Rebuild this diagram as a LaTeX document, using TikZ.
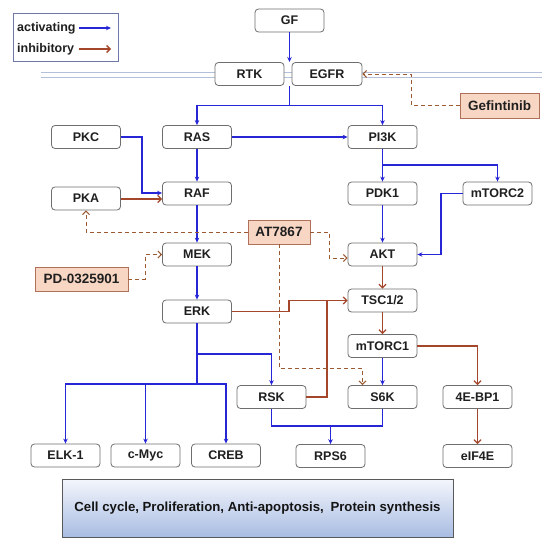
\documentclass[tikz,border=0pt]{standalone}
\usepackage{fontspec}
\setmainfont{Liberation Sans}
\usetikzlibrary{arrows.meta,calc}
\definecolor{actblue}{HTML}{2626D6}
\definecolor{inhbrown}{HTML}{A4462A}
\definecolor{dashbrown}{HTML}{9C5A32}
\definecolor{drugfill}{HTML}{F8D6C4}
\definecolor{drugdraw}{HTML}{B0705A}
\definecolor{boxdraw}{HTML}{6E6E6E}
\definecolor{membr}{HTML}{B4C0DA}
\definecolor{legdraw}{HTML}{6E78A8}
\definecolor{gradtop}{HTML}{F4F6FC}
\definecolor{gradbot}{HTML}{A8BCE2}
\begin{document}
\begin{tikzpicture}[x=1pt,y=-1pt,
  pbox/.style={draw=boxdraw, line width=0.8pt, rounded corners=3.5pt, fill=white,
    minimum width=69pt, minimum height=23pt, inner sep=0pt, text=black!88,
    font=\bfseries\fontsize{12.5}{12.5}\selectfont},
  drug/.style={draw=drugdraw, line width=0.9pt, fill=drugfill, minimum height=24pt,
    inner sep=0pt, text=black!88, font=\bfseries\fontsize{13.5}{13.5}\selectfont},
  act/.style={draw=actblue, line width=1.3pt, -{Stealth[length=5pt,width=4.5pt]}},
  actline/.style={draw=actblue, line width=1.3pt},
  inh/.style={draw=inhbrown, line width=1.3pt, -{Straight Barb[length=3.5pt,width=7pt]}},
  inhline/.style={draw=inhbrown, line width=1.3pt},
  drugarrow/.style={draw=dashbrown, line width=1pt, dash pattern=on 4pt off 3pt,
    -{Straight Barb[length=3.5pt,width=7pt]}},
  membrane/.style={draw=membr, line width=0.9pt}
]
\useasboundingbox (0,0) rectangle (550,546);
% membrane
\draw[membrane] (41,72) -- (542,72);
\draw[membrane] (41,77) -- (542,77);

% legend
\node[draw=legdraw, line width=0.9pt, fill=white, minimum width=105pt, minimum height=48pt, inner sep=0pt] (legend) at (65.5,37) {};
\node[anchor=west, inner sep=0pt, font=\bfseries\fontsize{12.5}{12.5}\selectfont, text=black!88] (lact) at (17,28) {activating};
\node[anchor=west, inner sep=0pt, font=\bfseries\fontsize{12.5}{12.5}\selectfont, text=black!88] (linh) at (17,49) {inhibitory};
\coordinate (la1) at (79,28); \coordinate (la2) at (111,28);
\coordinate (li1) at (79,49); \coordinate (li2) at (111,49);
\draw[act] (la1) -- (la2);
\draw[inh] (li1) -- (li2);

% nodes
\node[pbox] (GF) at (289.5,20.5) {GF};
\node[pbox] (RTK) at (249.5,74) {RTK};
\node[pbox, minimum width=70pt] (EGFR) at (327,74) {EGFR};
\node[pbox] (RAS) at (197,137) {RAS};
\node[pbox] (PI3K) at (382.5,137) {PI3K};
\node[pbox] (PKC) at (86,137) {PKC};
\node[pbox] (RAF) at (197,193.5) {RAF};
\node[pbox] (PKA) at (86,198.5) {PKA};
\node[pbox] (PDK1) at (382.5,193.5) {PDK1};
\node[pbox] (mTORC2) at (497.5,193.5) {mTORC2};
\node[pbox] (AKT) at (382.5,254.5) {AKT};
\node[pbox] (MEK) at (197,254.5) {MEK};
\node[pbox] (ERK) at (197,311.5) {ERK};
\node[pbox] (TSC) at (382.5,300.5) {TSC1/2};
\node[pbox] (mTORC1) at (382.5,346) {mTORC1};
\node[pbox] (S6K) at (382.5,397) {S6K};
\node[pbox] (RSK) at (271.5,397) {RSK};
\node[pbox] (EBP) at (477.5,397) {4E-BP1};
\node[pbox] (eIF) at (477.5,456) {eIF4E};
\node[pbox] (RPS6) at (330.5,456) {RPS6};
\node[pbox] (ELK) at (65.5,455.5) {ELK-1};
\node[pbox] (cMyc) at (145.5,455.5) {c-Myc};
\node[pbox] (CREB) at (226,455.5) {CREB};

\node[drug, minimum width=62pt] (AT) at (279,232) {AT7867};
\node[drug, minimum width=93pt] (PD) at (81.5,279) {PD-0325901};
\node[drug, minimum width=79pt, minimum height=25pt] (Gef) at (499.5,105.5) {Gefintinib};

% bottom box
\node[draw=black!65, line width=0.9pt, top color=gradtop, bottom color=gradbot,
  minimum width=391pt, minimum height=58pt, inner sep=0pt, text=black!92,
  font=\bfseries\fontsize{13.2}{13.2}\selectfont] (out) at (257.5,508)
  {Cell cycle, Proliferation, Anti-apoptosis,\hspace{3pt} Protein synthesis};

% coordinates
\coordinate (rj) at (289.5,62);
\coordinate (rb) at (289.5,86);
\coordinate (j1) at (289.5,105.5);
\coordinate (j2) at (382.5,165);
\coordinate (pk) at (142,137);
\coordinate (mt) at (441,193.5);
\coordinate (e1) at (289,311.5);
\coordinate (rs) at (327,300.5);
\coordinate (j3) at (197,354);
\coordinate (j4) at (197,384);
\coordinate (j5) at (330.5,426);
\coordinate (g1) at (411,105.5);
\coordinate (p1) at (145,279);
\coordinate (a1) at (329,232);
\coordinate (a2) at (279,368);

% activating
\draw[act] (GF) -- (rj);
\draw[actline] (rb) -- (j1);
\draw[act] (j1) -| (RAS);
\draw[act] (j1) -| (PI3K);
\draw[act] (RAS) -- (PI3K);
\draw[act] (RAS) -- (RAF);
\draw[act] (PKC.east) -- (pk) |- ([yshift=0.5pt]RAF.west);
\draw[act] (PI3K) -- (PDK1);
\draw[act] (j2) -| (mTORC2);
\draw[act] (PDK1) -- (AKT);
\draw[act] (mTORC2.west) -- (mt) |- (AKT.east);
\draw[act] (RAF) -- (MEK);
\draw[act] (MEK) -- (ERK);
\draw[act] (ERK) -- (j3) -| (RSK);
\draw[actline] (j3) -- (j4);
\draw[act] (j4) -| (ELK);
\draw[act] (j4) -| (CREB);
\draw[act] (cMyc |- j4) -- (cMyc);
\draw[act] (mTORC1) -- (S6K);
\draw[actline] (RSK.south) |- (j5) -| (S6K.south);
\draw[act] (j5) -- (RPS6);

% inhibitory
\draw[inh] (PKA.east |- 0,199) -- (RAF.west |- 0,199);
\draw[inh] (AKT) -- (TSC);
\draw[inh] (TSC) -- (mTORC1);
\draw[inh] (mTORC1.east) -| (EBP.north);
\draw[inh] (EBP) -- (eIF);
\draw[inh] (ERK.east) -- (e1) |- (TSC.west);
\draw[inhline] (RSK.east) -| (rs);

% drugs
\draw[drugarrow] (Gef.west) -- (g1) |- (EGFR.east);
\draw[drugarrow] (PD.east) -- (p1) |- (MEK.west);
\draw[drugarrow] (AT.west) -| (PKA.south);
\draw[drugarrow] (AT.east) -- (a1) |- ([yshift=-3.5pt]AKT.west);
\draw[drugarrow] (AT.south) -- (a2) -| ([xshift=-20pt]S6K.north);
\end{tikzpicture}
\end{document}
